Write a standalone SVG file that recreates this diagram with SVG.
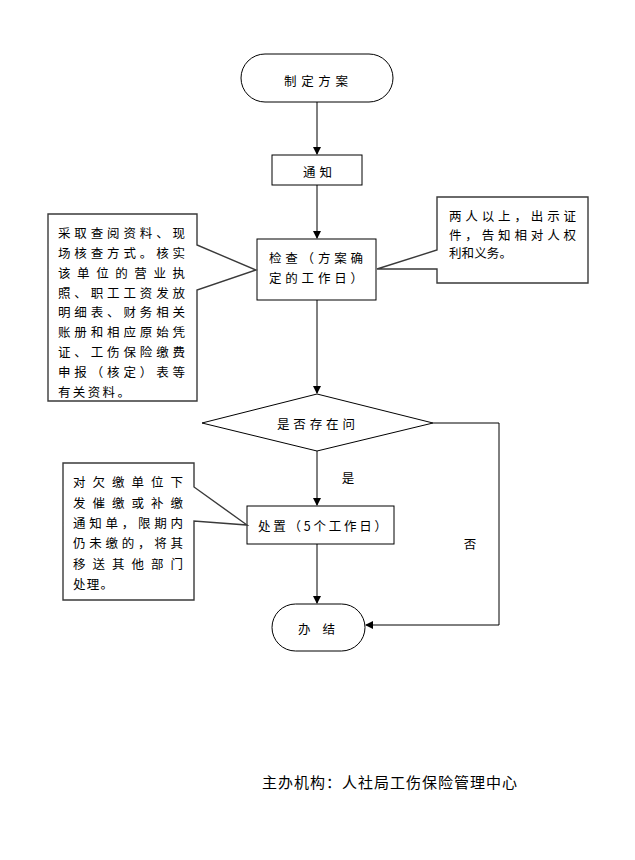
<svg xmlns="http://www.w3.org/2000/svg" width="635" height="860" viewBox="0 0 635 860">
<defs>
<style>
.s{fill:#fff;stroke:#000;stroke-width:1}
.c{fill:#fff;stroke:#3a3a3a;stroke-width:1.4}
.t{font-family:"Noto Sans CJK SC","Noto Sans",sans-serif;font-size:12.5px;fill:#000;dominant-baseline:central}
.m{text-anchor:middle}
.ln{fill:none;stroke:#000;stroke-width:1}
</style>
<marker id="ah" markerWidth="8" markerHeight="8" refX="7" refY="4" orient="auto" markerUnits="userSpaceOnUse">
<path d="M0,0 L8,4 L0,8 Z" fill="#000"/>
</marker>
</defs>
<rect width="635" height="860" fill="#fff"/>

<g id="connectors">
<line class="ln" x1="317" y1="102" x2="317" y2="154" marker-end="url(#ah)"/>
<line class="ln" x1="317" y1="185" x2="317" y2="238" marker-end="url(#ah)"/>
<line class="ln" x1="317" y1="300" x2="317" y2="393" marker-end="url(#ah)"/>
<line class="ln" x1="317" y1="451" x2="317" y2="505" marker-end="url(#ah)"/>
<line class="ln" x1="317" y1="544" x2="317" y2="603" marker-end="url(#ah)"/>
<polyline class="ln" points="433,423 499,423 499,625 366,625" marker-end="url(#ah)"/>
<text class="t m" x="348" y="477">是</text>
<text class="t m" x="470" y="543">否</text>
</g>

<g id="start">
<rect class="s" x="241" y="54" width="152" height="48" rx="24" ry="24"/>
<text class="t" x="284" y="80" textLength="64" lengthAdjust="spacing">制定方案</text>
</g>

<g id="notify">
<rect class="s" x="272" y="155" width="90" height="30"/>
<text class="t" x="303" y="171" textLength="29" lengthAdjust="spacing">通知</text>
</g>

<g id="check">
<rect class="s" x="257" y="239" width="119" height="61"/>
<text class="t" x="269" y="257" textLength="94" lengthAdjust="spacing">检查（方案确</text>
<text class="t" x="269" y="277" textLength="94" lengthAdjust="spacing">定的工作日）</text>
</g>

<g id="note-left">
<polygon class="c" points="48,214 197,214 197,245 256,270 197,290 197,401 48,401"/>
<text class="t" x="58" y="232" textLength="127" lengthAdjust="spacing">采取查阅资料、现</text>
<text class="t" x="58" y="252" textLength="127" lengthAdjust="spacing">场核查方式。核实</text>
<text class="t" x="58" y="272" textLength="127" lengthAdjust="spacing">该单位的营业执</text>
<text class="t" x="58" y="292" textLength="127" lengthAdjust="spacing">照、职工工资发放</text>
<text class="t" x="58" y="311" textLength="127" lengthAdjust="spacing">明细表、财务相关</text>
<text class="t" x="58" y="331" textLength="127" lengthAdjust="spacing">账册和相应原始凭</text>
<text class="t" x="58" y="351" textLength="127" lengthAdjust="spacing">证、工伤保险缴费</text>
<text class="t" x="58" y="371" textLength="127" lengthAdjust="spacing">申报（核定）表等</text>
<text class="t" x="58" y="391" textLength="72" lengthAdjust="spacing">有关资料。</text>
</g>

<g id="note-right">
<polygon class="c" points="437,197 588,197 588,283 437,283 437,269 377,269 437,250"/>
<text class="t" x="449" y="215" textLength="127" lengthAdjust="spacing">两人以上，出示证</text>
<text class="t" x="449" y="234" textLength="127" lengthAdjust="spacing">件，告知相对人权</text>
<text class="t" x="449" y="252" textLength="63" lengthAdjust="spacing">利和义务。</text>
</g>

<g id="decision">
<polygon class="s" points="317,394 433,423 317,451 202,423"/>
<text class="t" x="277" y="423" textLength="78" lengthAdjust="spacing">是否存在问</text>
</g>

<g id="handle">
<rect class="s" x="247" y="506" width="147" height="38"/>
<text class="t" x="258" y="525" textLength="129" lengthAdjust="spacing">处置（5个工作日）</text>
</g>

<g id="note-handle">
<polygon class="c" points="63,463 194,463 194,487 247,525 194,521 194,600 63,600"/>
<text class="t" x="73" y="481" textLength="110" lengthAdjust="spacing">对欠缴单位下</text>
<text class="t" x="73" y="502" textLength="110" lengthAdjust="spacing">发催缴或补缴</text>
<text class="t" x="73" y="522" textLength="110" lengthAdjust="spacing">通知单，限期内</text>
<text class="t" x="73" y="542" textLength="110" lengthAdjust="spacing">仍未缴的，将其</text>
<text class="t" x="73" y="563" textLength="110" lengthAdjust="spacing">移送其他部门</text>
<text class="t" x="73" y="583" textLength="40" lengthAdjust="spacing">处理。</text>
</g>

<g id="end">
<rect class="s" x="272" y="604" width="93" height="47" rx="23.5" ry="23.5"/>
<text class="t" x="298" y="628" textLength="37" lengthAdjust="spacing">办 结</text>
</g>

<g id="footer">
<text class="t" x="262" y="781" style="font-size:15px" textLength="255" lengthAdjust="spacing">主办机构：人社局工伤保险管理中心</text>
</g>
</svg>
